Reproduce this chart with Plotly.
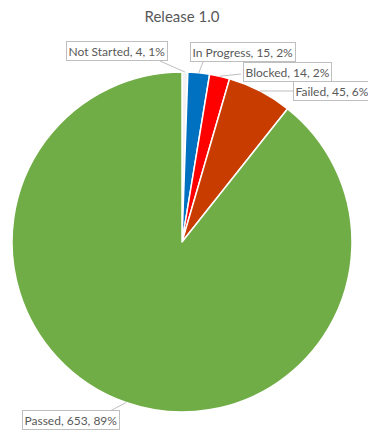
import numpy as np
from plotly import graph_objects as go

# page body has an 8px margin, so the figure is drawn 8px smaller and offset
OFF = 8
W, H = 376 - OFF, 432 - OFF

# data
status = ["Not Started", "In Progress", "Blocked", "Failed", "Passed"]
counts = [4, 15, 14, 45, 653]
colors = ["#F2F2F2", "#0070C0", "#FF0000", "#C83C00", "#70AD47"]

# pie placement in window pixels (center and radius)
cx, cy, r = 182, 242, 170

# label box centers and leader-line end points (window pixels)
label_pos = [(117, 51), (243, 52), (287, 72), (332, 91), (71, 420)]
leader_end = [(160, 61), (203, 62), (241, 74), (293, 91), (110, 411)]


def px(x):
    return (x - OFF) / W


def py(y):
    return 1 - (y - OFF) / H


total = sum(counts)
pct = [round(c / total * 100) for c in counts]
cum = np.cumsum([0] + counts)
mid_angles = [(cum[i] + cum[i + 1]) / 2 / total * 2 * np.pi for i in range(len(counts))]

fig = go.Figure()
fig.add_trace(go.Pie(
    labels=status, values=counts, sort=False, direction="clockwise", rotation=0,
    marker=dict(colors=colors, line=dict(color="white", width=1.5)),
    textinfo="none", hoverinfo="label+value+percent",
    domain=dict(x=[px(cx - r), px(cx + r)], y=[py(cy + r), py(cy - r)]),
    showlegend=False,
))

for i, name in enumerate(status):
    a = mid_angles[i]
    x0, y0 = cx + r * np.sin(a), cy - r * np.cos(a)
    x1, y1 = leader_end[i]
    fig.add_shape(type="line", xref="paper", yref="paper",
                  x0=px(x0), y0=py(y0), x1=px(x1), y1=py(y1),
                  line=dict(color="#BFBFBF", width=1))
    lx, ly = label_pos[i]
    fig.add_annotation(x=px(lx), y=py(ly), xref="paper", yref="paper",
                       text=f"{name}, {counts[i]}, {pct[i]}%", showarrow=False,
                       xanchor="center", yanchor="middle",
                       font=dict(family="Lato", size=12, color="#595959"),
                       bgcolor="white", bordercolor="#BFBFBF", borderwidth=1, borderpad=1.5)

fig.update_layout(
    width=W, height=H,
    margin=dict(l=0, r=0, t=0, b=0),
    paper_bgcolor="white", plot_bgcolor="white",
    title=dict(text="Release 1.0", x=px(cx), xanchor="center", y=py(17), yanchor="middle",
               font=dict(family="Lato", size=15, color="#595959")),
)

fig.write_html("out.html")
